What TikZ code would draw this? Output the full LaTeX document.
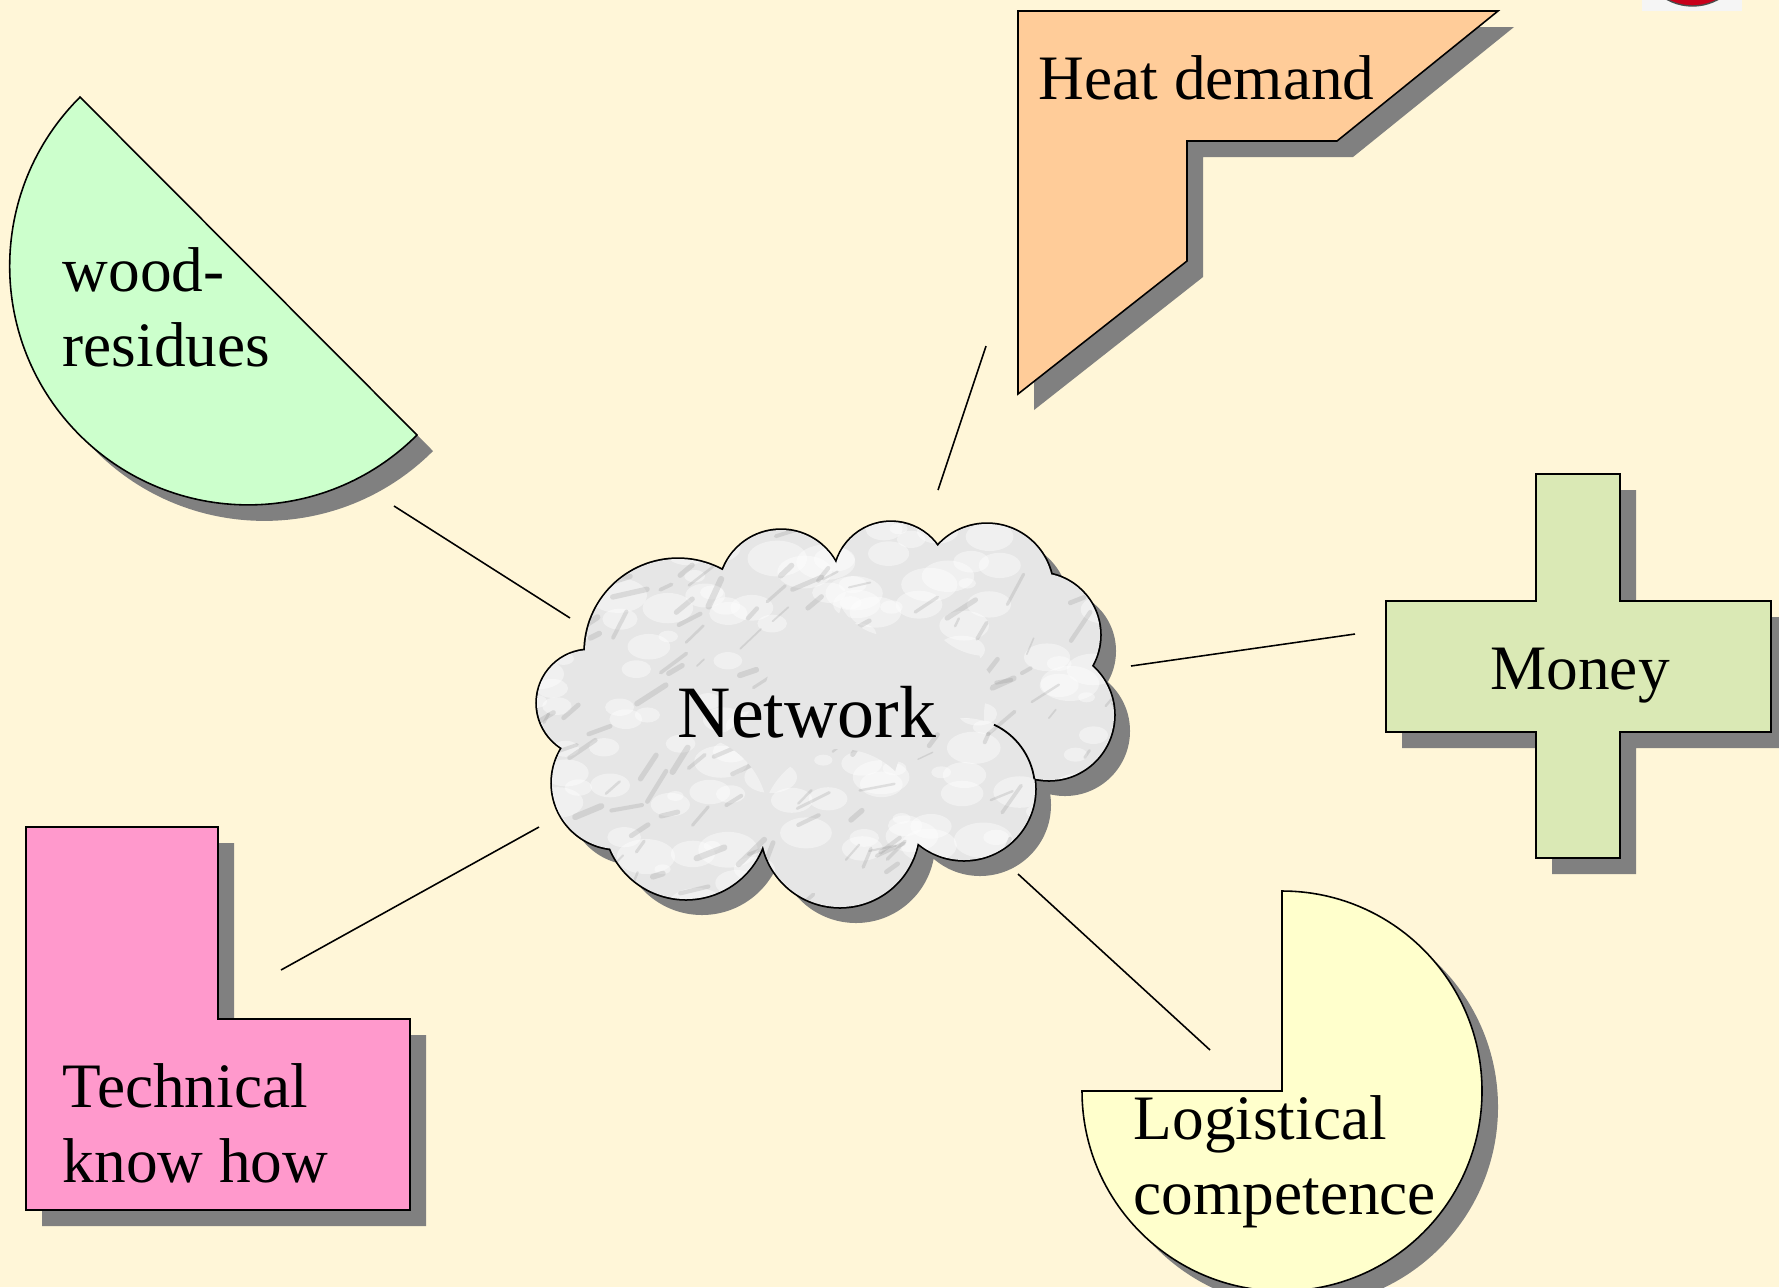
\documentclass[tikz,border=0pt]{standalone}
\usepackage{fontspec}
\setmainfont{Liberation Serif}
\usetikzlibrary{shadows}
\definecolor{bgcream}{HTML}{FFF6D8}
\definecolor{shadowgray}{HTML}{808080}
\definecolor{woodgreen}{HTML}{CCFFCC}
\definecolor{heatpeach}{HTML}{FFCC99}
\definecolor{moneygreen}{HTML}{DAE9B5}
\definecolor{techpink}{HTML}{FF99CC}
\definecolor{logyellow}{HTML}{FFFFCC}
\definecolor{cloudgray}{HTML}{E6E6E6}
\definecolor{veingray}{HTML}{8A8A8A}
\definecolor{logored}{HTML}{C8001A}

\newcommand{\NetCloud}[1]{%
  \path[#1] (590,-703) circle (53) (678,-652) circle (93) (781,-592) circle (62)
    (891,-579) circle (57) (987,-590) circle (66) (1038,-635) circle (62)
    (1049,-715) circle (65) (964,-789) circle (71) (840,-828) circle (79)
    (686,-817) circle (82) (618,-783) circle (66);}

\begin{document}
\begin{tikzpicture}[x=0.01cm,y=0.01cm,
  lbl/.style={font=\fontsize{18}{21.3}\selectfont, inner sep=0pt, align=left, anchor=base west},
  shp/.style={draw=black, line width=0.45pt,
    drop shadow={shadow xshift=0.16cm, shadow yshift=-0.16cm, fill=shadowgray, opacity=1}},
  link/.style={draw=black, line width=0.45pt}]
\path[use as bounding box] (0,0) rectangle (1779,-1287);
\fill[bgcream] (0,0) rectangle (1779,-1287);
\clip (0,0) rectangle (1779,-1287);

% logo fragment
\fill[gray!8] (1642,0) rectangle (1742,-11);
\begin{scope}
  \clip (1642,0) rectangle (1742,-11);
  \draw[fill=logored, draw=black!70, line width=0.4pt] (1692.5,47) circle (53);
\end{scope}

% shapes
\path[shp, fill=woodgreen] (80,-97) -- (417,-435)
  arc[start angle=-45, end angle=-225, radius=238.6] -- cycle;
\path[shp, fill=heatpeach] (1018,-11) -- (1498,-11) -- (1337,-141) -- (1187,-141)
  -- (1187,-261) -- (1018,-394) -- cycle;
\path[shp, fill=moneygreen] (1536,-474) -- (1620,-474) -- (1620,-601) -- (1771,-601)
  -- (1771,-732) -- (1620,-732) -- (1620,-858) -- (1536,-858) -- (1536,-732)
  -- (1386,-732) -- (1386,-601) -- (1536,-601) -- cycle;
\path[shp, fill=techpink] (26,-827) -- (218,-827) -- (218,-1019) -- (410,-1019)
  -- (410,-1210) -- (26,-1210) -- cycle;
\path[shp, fill=logyellow] (1282,-1091) -- (1082,-1091)
  arc[start angle=180, end angle=450, radius=200] -- cycle;

% cloud
\begin{scope}[shift={(16,-16)}]
  \NetCloud{fill=shadowgray}
\end{scope}
\NetCloud{draw=black, line width=1pt}
\NetCloud{fill=cloudgray}
\fill[cloudgray] (590,-703) -- (678,-652) -- (781,-592) -- (891,-579) -- (987,-590)
  -- (1038,-635) -- (1049,-715) -- (964,-789) -- (840,-828) -- (686,-817) -- (618,-783) -- cycle;
\begin{scope}
  \NetCloud{clip}
  \pgfmathsetseed{11}
  \foreach \i in {1,...,160}{
    \pgfmathsetmacro\xx{530+590*rnd}
    \pgfmathsetmacro\yy{-515-400*rnd}
    \pgfmathsetmacro\rr{8+22*rnd}
    \fill[white, opacity=0.4] (\xx,\yy) ellipse ({\rr} and {0.6*\rr});
  }
  \foreach \i in {1,...,150}{
    \pgfmathsetmacro\xx{530+590*rnd}
    \pgfmathsetmacro\yy{-515-400*rnd}
    \pgfmathsetmacro\aa{10+60*rnd}
    \pgfmathsetmacro\ll{8+30*rnd}
    \pgfmathsetmacro\ww{0.4+1.4*rnd}
    \draw[veingray, opacity=0.22, line width=\ww pt, line cap=round] (\xx,\yy) -- ++(\aa:\ll);
  }
\end{scope}
% inner lobe line of the cloud
\draw[line width=0.5pt] (964,-789) ++(65:71) arc[start angle=65, end angle=8, radius=71];

% connectors
\coordinate (w1) at (394,-506);  \coordinate (w2) at (570,-618);
\coordinate (h1) at (986,-346);  \coordinate (h2) at (938,-490);
\coordinate (m1) at (1131,-666); \coordinate (m2) at (1355,-634);
\coordinate (t1) at (539,-827);  \coordinate (t2) at (281,-970);
\coordinate (l1) at (1018,-874); \coordinate (l2) at (1210,-1050);
\draw[link] (w1) -- (w2);
\draw[link] (h1) -- (h2);
\draw[link] (m1) -- (m2);
\draw[link] (t1) -- (t2);
\draw[link] (l1) -- (l2);

% labels (multi-line nodes: base anchor is the last line)
\node[lbl] (tHeat) at (1038,-99) {Heat demand};
\node[lbl] (tWood) at (62,-366) {wood-\\residues};
\node[lbl, anchor=base] (tMoney) at (1580,-689) {Money};
\node[lbl] (tTech) at (62,-1182) {Technical\\know how};
\node[lbl] (tLog) at (1133,-1214) {Logistical\\competence};
\node[lbl, font=\fontsize{21}{24}\selectfont] (tNet) at (677,-737) {Network};
\end{tikzpicture}
\end{document}
